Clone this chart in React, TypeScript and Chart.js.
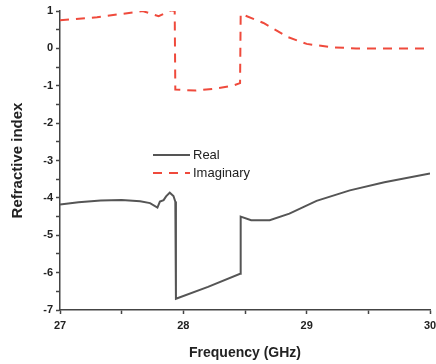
import React, { useEffect, useRef } from "react";
import { Chart, registerables } from "chart.js";

Chart.register(...registerables);

const realFreq = [27.0, 27.15, 27.33, 27.5, 27.65, 27.73, 27.79, 27.81, 27.84, 27.86, 27.89, 27.92, 27.935, 27.94, 28.2, 28.46, 28.465, 28.55, 28.7, 28.86, 29.08, 29.35, 29.63, 30.0];
const realValues = [-4.18, -4.12, -4.07, -4.06, -4.09, -4.14, -4.26, -4.1, -4.06, -3.96, -3.86, -3.95, -4.1, -6.7, -6.38, -6.03, -4.5, -4.6, -4.6, -4.42, -4.08, -3.8, -3.58, -3.35];

const imagFreq = [27.0, 27.3, 27.67, 27.8, 27.9, 27.93, 27.935, 28.1, 28.25, 28.4, 28.46, 28.465, 28.5, 28.65, 28.85, 29.0, 29.2, 29.4, 30.0];
const imagValues = [0.75, 0.83, 1.0, 0.86, 1.02, 1.0, -1.1, -1.13, -1.08, -1.0, -0.93, 0.92, 0.88, 0.68, 0.3, 0.12, 0.03, 0.0, 0.0];

const seriesNames = ["Real", "Imaginary"];
const xTitle = "Frequency (GHz)";
const yTitle = "Refractive index";

const FONT = "'Liberation Sans', Arial, sans-serif";

const legendPlugin = {
  id: "inlineLegend",
  afterDraw(chart: any) {
    const ctx = chart.ctx;
    const items = chart.data.datasets;
    const x0 = 153;
    const rows = [155, 173];
    ctx.save();
    ctx.font = `13px ${FONT}`;
    ctx.textBaseline = "middle";
    items.forEach((ds: any, i: number) => {
      const y = rows[i];
      ctx.beginPath();
      ctx.strokeStyle = ds.borderColor;
      ctx.lineWidth = ds.borderWidth;
      ctx.setLineDash(ds.borderDash || []);
      ctx.moveTo(x0, y);
      ctx.lineTo(x0 + 37, y);
      ctx.stroke();
      ctx.setLineDash([]);
      ctx.fillStyle = "#222";
      ctx.fillText(ds.label, x0 + 40, y);
    });
    ctx.restore();
  },
};

export default function App() {
  const ref = useRef<HTMLCanvasElement>(null);
  useEffect(() => {
    document.body.style.margin = "0";
    const chart = new Chart(ref.current!, {
      type: "line",
      data: {
        datasets: [
          {
            label: seriesNames[0],
            data: realFreq.map((f, i) => ({ x: f, y: realValues[i] })),
            borderColor: "#555555",
            borderWidth: 2,
            pointRadius: 0,
            tension: 0,
          },
          {
            label: seriesNames[1],
            data: imagFreq.map((f, i) => ({ x: f, y: imagValues[i] })),
            borderColor: "#ef4a3c",
            borderWidth: 2,
            borderDash: [9, 7],
            pointRadius: 0,
            tension: 0,
          },
        ],
      },
      options: {
        animation: false,
        responsive: false,
        layout: { padding: { top: 11, right: 6, left: 0, bottom: 0 } },
        plugins: { legend: { display: false }, tooltip: { enabled: false } },
        scales: {
          x: {
            type: "linear",
            min: 27,
            max: 30,
            afterFit: (s: any) => { s.height = 54; s.paddingRight = 0; s.paddingLeft = 0; },
            afterBuildTicks: (s: any) => {
              const t = [];
              for (let v = 27; v <= 30.001; v += 0.5) t.push({ value: Math.round(v * 10) / 10 });
              s.ticks = t;
            },
            ticks: {
              autoSkip: false,
              maxRotation: 0,
              padding: 5,
              color: "#222",
              font: { family: FONT, size: 11, weight: "bold" },
              callback: (v: any) => (Number.isInteger(v) ? String(v) : ""),
            },
            grid: { drawOnChartArea: false, tickLength: 4, color: "#444", tickWidth: 1.5 },
            border: { display: true, color: "#444", width: 1.5 },
            title: {
              display: true,
              text: xTitle,
              color: "#222",
              font: { family: FONT, size: 14, weight: "bold" },
              padding: { top: 6, bottom: 2 },
            },
          },
          y: {
            type: "linear",
            min: -7,
            max: 1,
            afterFit: (s: any) => { s.width = 60; },
            afterBuildTicks: (s: any) => {
              const t = [];
              for (let v = -7; v <= 1.001; v += 0.5) t.push({ value: Math.round(v * 10) / 10 });
              s.ticks = t;
            },
            ticks: {
              autoSkip: false,
              padding: 3,
              color: "#222",
              font: { family: FONT, size: 11, weight: "bold" },
              callback: (v: any) => (Number.isInteger(v) ? String(v) : ""),
            },
            grid: { drawOnChartArea: false, tickLength: 4, color: "#444", tickWidth: 1.5 },
            border: { display: true, color: "#444", width: 1.5 },
            title: {
              display: true,
              text: yTitle,
              color: "#222",
              font: { family: FONT, size: 15, weight: "bold" },
              padding: { top: 9, bottom: 9 },
            },
          },
        },
      },
      plugins: [legendPlugin],
    } as any);
    return () => chart.destroy();
  }, []);
  return (
    <div style={{ width: 436, height: 364, background: "#fff" }}>
      <canvas ref={ref} width={436} height={364} />
    </div>
  );
}
